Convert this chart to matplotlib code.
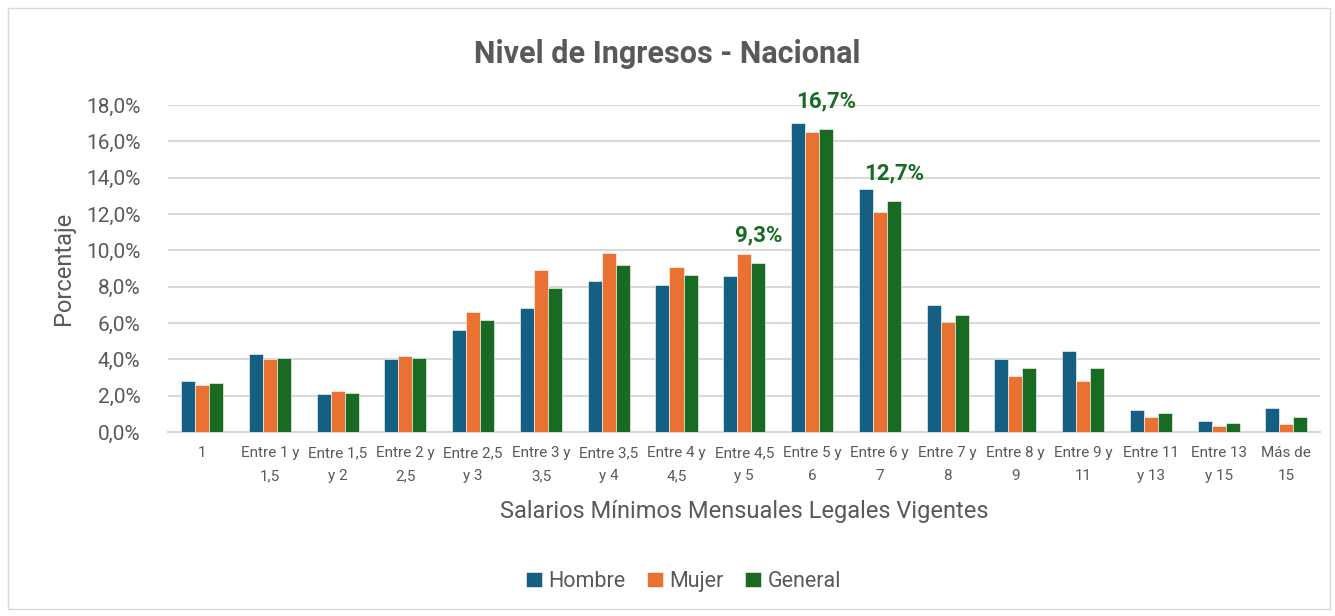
import matplotlib
matplotlib.use("Agg")
import matplotlib.pyplot as plt
import numpy as np
from matplotlib.patches import Rectangle

categories = ["1", "Entre 1 y\n1,5", "Entre 1,5\ny 2", "Entre 2 y\n2,5", "Entre 2,5\ny 3",
              "Entre 3 y\n3,5", "Entre 3,5\ny 4", "Entre 4 y\n4,5", "Entre 4,5\ny 5",
              "Entre 5 y\n6", "Entre 6 y\n7", "Entre 7 y\n8", "Entre 8 y\n9", "Entre 9 y\n11",
              "Entre 11\ny 13", "Entre 13\ny 15", "Más de\n15"]
hombre = [2.8, 4.3, 2.1, 4.0, 5.6, 6.8, 8.3, 8.1, 8.6, 17.0, 13.4, 7.0, 4.0, 4.45, 1.2, 0.62, 1.3]
mujer = [2.6, 4.0, 2.25, 4.2, 6.6, 8.9, 9.85, 9.1, 9.8, 16.5, 12.1, 6.05, 3.1, 2.8, 0.83, 0.35, 0.46]
general = [2.7, 4.1, 2.15, 4.1, 6.15, 7.95, 9.2, 8.65, 9.3, 16.7, 12.7, 6.45, 3.5, 3.5, 1.03, 0.48, 0.8]
series_names = ["Hombre", "Mujer", "General"]
colors = ["#156082", "#E97132", "#196B24"]
highlight_idx = [8, 9, 10]

plt.rcParams['font.family'] = ['Roboto', 'DejaVu Sans']
fig = plt.figure(figsize=(13.35, 6.16), dpi=100)
ax = fig.add_axes([0.126, 0.2987, 0.863, 0.5308])

x = np.arange(len(categories))
w = 0.207
for i, (vals, name, c) in enumerate(zip([hombre, mujer, general], series_names, colors)):
    ax.bar(x + (i - 1) * w, vals, width=w, color=c, label=name, edgecolor='white', linewidth=0.4, zorder=3)

for idx in highlight_idx:
    ax.annotate(f"{general[idx]:.1f}%".replace('.', ','), xy=(x[idx] + w, general[idx]),
                xytext=(0, 12), textcoords='offset points', ha='center', va='bottom',
                fontsize=16, fontweight='bold', color='#196B24')

ax.set_xlim(-0.5, len(categories) - 0.5)
ax.set_ylim(0, 18)
ax.set_yticks(np.arange(0, 18.1, 2))
ax.set_yticklabels([f"{v:.1f}%".replace('.', ',') for v in np.arange(0, 18.1, 2)], fontsize=15, color='#595959')
ax.set_xticks(x)
ax.set_xticklabels(categories, fontsize=11, color='#595959', linespacing=1.85)
ax.tick_params(axis='both', length=0)
ax.tick_params(axis='x', pad=10)
ax.tick_params(axis='y', pad=20)
ax.grid(axis='y', color='#D9D9D9', linewidth=1.5, zorder=0)
for s in ['top', 'right', 'left']:
    ax.spines[s].set_visible(False)
ax.spines['bottom'].set_color('#D9D9D9')
ax.spines['bottom'].set_linewidth(1.5)

ax.set_ylabel("Porcentaje", fontsize=17, color='#595959', labelpad=8)
ax.set_xlabel("Salarios Mínimos Mensuales Legales Vigentes", fontsize=17, color='#595959', labelpad=12)
fig.text(0.5, 0.913, "Nivel de Ingresos - Nacional", ha='center', va='center', fontsize=22,
         fontweight='bold', color='#595959')

leg = fig.legend(loc='center', bbox_to_anchor=(0.512, 0.056), ncol=3, frameon=False, fontsize=15.5,
                 handlelength=0.75, handleheight=0.75, handletextpad=0.3, columnspacing=1.0)
for t in leg.get_texts():
    t.set_color('#595959')

fig.patches.append(Rectangle((0.006, 0.012), 0.99, 0.975, transform=fig.transFigure,
                             fill=False, edgecolor='#D9D9D9', linewidth=1))

fig.savefig("out.png", dpi=100)
